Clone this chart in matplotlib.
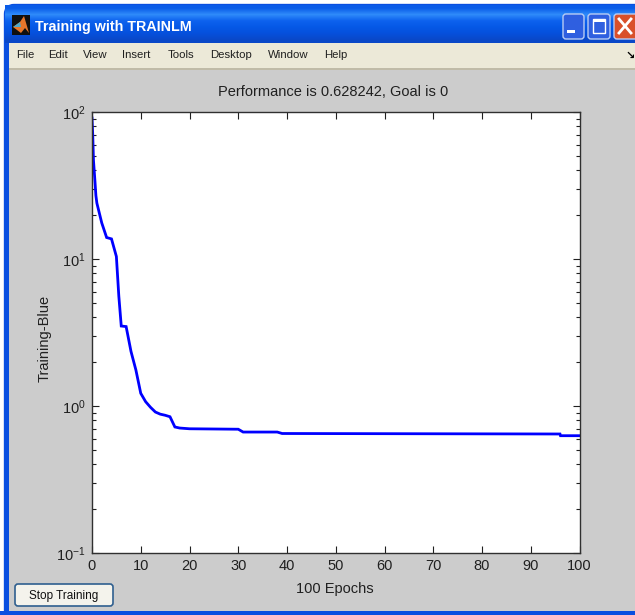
import numpy as np
import matplotlib
matplotlib.use('Agg')
import matplotlib.pyplot as plt
from matplotlib.patches import Rectangle, FancyBboxPatch, Polygon
from matplotlib.ticker import LogLocator, NullFormatter

plt.rcParams['font.family'] = ['Liberation Sans', 'DejaVu Sans']
plt.rcParams['mathtext.default'] = 'regular'

W, H = 635, 615

# training curve
epochs = [0, 0.15, 0.3, 0.6, 0.8, 1, 2, 3, 4, 5, 5.5, 6, 7, 8, 9, 10, 11, 12, 13, 14, 15, 16, 17, 18,
          20, 30, 31, 38, 39, 96, 96.1, 100]
perf = [91, 70, 47, 34, 27, 24, 17.6, 14, 13.7, 10.4, 5.6, 3.5, 3.47, 2.35, 1.76, 1.22, 1.07, 0.98,
        0.91, 0.88, 0.865, 0.845, 0.72, 0.708, 0.70, 0.695, 0.665, 0.665, 0.65, 0.645, 0.628, 0.628]
xticks = [0, 10, 20, 30, 40, 50, 60, 70, 80, 90, 100]
menu_items = ['File', 'Edit', 'View', 'Insert', 'Tools', 'Desktop', 'Window', 'Help']
menu_x = [16, 48, 83, 122, 168, 210, 268, 324]

fig = plt.figure(figsize=(W / 100, H / 100), dpi=100, facecolor='white')

# window chrome, drawn in pixel coordinates
bg = fig.add_axes([0, 0, 1, 1])
bg.set_xlim(0, W)
bg.set_ylim(H, 0)
bg.axis('off')

bg.add_patch(FancyBboxPatch((8, 8), W, H, boxstyle='round,pad=0,rounding_size=6', fc='#0A4FE0', ec='#0A4FE0', lw=6))
bar = np.zeros((6, 1, 3))
cols = ['#0A5CE8', '#2F8BFA', '#0D62EE', '#0558E6', '#0650DC', '#0A48C8']
for i, c in enumerate(cols):
    bar[i, 0] = matplotlib.colors.to_rgb(c)
bg.imshow(bar, extent=(5, W, 43, 5), aspect='auto', interpolation='bilinear', zorder=1)
bg.set_xlim(0, W)
bg.set_ylim(H, 0)

bg.add_patch(Rectangle((9, 43), W - 9, 26, fc='#ECE9D8', ec='none', zorder=2))
bg.add_patch(Rectangle((9, 68), W - 9, 2, fc='#C0BBA8', ec='none', zorder=2))
bg.add_patch(Rectangle((9, 70), W - 9, 541, fc='#CCCCCC', ec='none', zorder=2))
bg.add_patch(Rectangle((0, 611), W, 4, fc='#0A4FE0', ec='none', zorder=2))

# matlab icon
bg.add_patch(Rectangle((12, 15), 18, 20, fc='#101010', ec='none', zorder=3))
bg.add_patch(Polygon([[13, 27], [20, 22], [24, 16], [29, 33], [25, 28], [21, 33]], fc='#E8762A', ec='none', zorder=4))
bg.add_patch(Polygon([[13, 27], [20, 22], [21, 27]], fc='#4FA8C8', ec='none', zorder=5))

bg.text(35, 27, 'Training with TRAINLM', color='white', fontsize=10.3, fontweight='bold', va='center', zorder=6)

# title bar buttons
for x0, x1, c in [(562, 585, '#2F5FE0'), (587, 611, '#2F5FE0'), (613, 642, '#D9502A')]:
    bg.add_patch(FancyBboxPatch((x0 + 1, 14), x1 - x0 - 2, 25, boxstyle='round,pad=0,rounding_size=3',
                                fc=c, ec='#B8CCF4', lw=1.0, zorder=6))
bg.add_patch(Rectangle((567, 30), 8, 3, fc='white', ec='none', zorder=7))
bg.add_patch(Rectangle((593, 19), 12, 14, fc='none', ec='white', lw=1.0, zorder=7))
bg.add_patch(Rectangle((593, 19), 12, 2.5, fc='white', ec='none', zorder=7))
bg.plot([619, 631], [19, 33], color='white', lw=2, zorder=7)
bg.plot([631, 619], [19, 33], color='white', lw=2, zorder=7)

for name, x in zip(menu_items, menu_x):
    bg.text(x, 55.5, name, fontsize=8.2, color='#202020', va='center', zorder=6)
bg.text(630, 55.5, '\u2198', fontsize=8, fontweight='bold', color='black', ha='center', va='center', zorder=6,
        family=['DejaVu Sans'])

# stop button
bg.add_patch(FancyBboxPatch((15, 584), 98, 22, boxstyle='round,pad=0,rounding_size=3', fc='#F4F3EC',
                            ec='#2F5F8F', lw=1.2, zorder=6))
bg.text(64, 595.5, 'Stop Training', fontsize=8.5, color='#101010', ha='center', va='center', zorder=7)

# plot area
left, right, top, bottom = 92, 579.5, 112, 553
ax = fig.add_axes([left / W, 1 - bottom / H, (right - left) / W, (bottom - top) / H], zorder=5)
ax.set_facecolor('white')
ax.semilogy(epochs, perf, color='#0000FF', lw=2.0, solid_joinstyle='miter')
ax.set_xlim(0, 100)
ax.set_ylim(0.1, 100)
ax.set_xticks(xticks)
ax.yaxis.set_major_locator(LogLocator(base=10, numticks=5))
ax.yaxis.set_minor_locator(LogLocator(base=10, subs=np.arange(2, 10), numticks=5))
ax.yaxis.set_minor_formatter(NullFormatter())
ax.tick_params(which='major', direction='in', top=True, right=True, length=4.7, width=0.8,
               labelsize=10.5, colors='#202020', pad=4.5)
ax.tick_params(which='minor', direction='in', right=True, left=True, length=3, width=0.8, colors='#202020')
for s in ax.spines.values():
    s.set_linewidth(1.0)
    s.set_color('#303030')

bg.text(333, 92, 'Performance is 0.628242, Goal is 0', fontsize=10.5, color='#202020', ha='center', va='center', zorder=6)
bg.text(335, 589, '100 Epochs', fontsize=10.5, color='#202020', ha='center', va='center', zorder=6)
bg.text(45, 338, 'Training-Blue', fontsize=10.5, color='#202020', rotation=90, ha='center', va='center', zorder=6)

fig.savefig('out.png', dpi=100)
